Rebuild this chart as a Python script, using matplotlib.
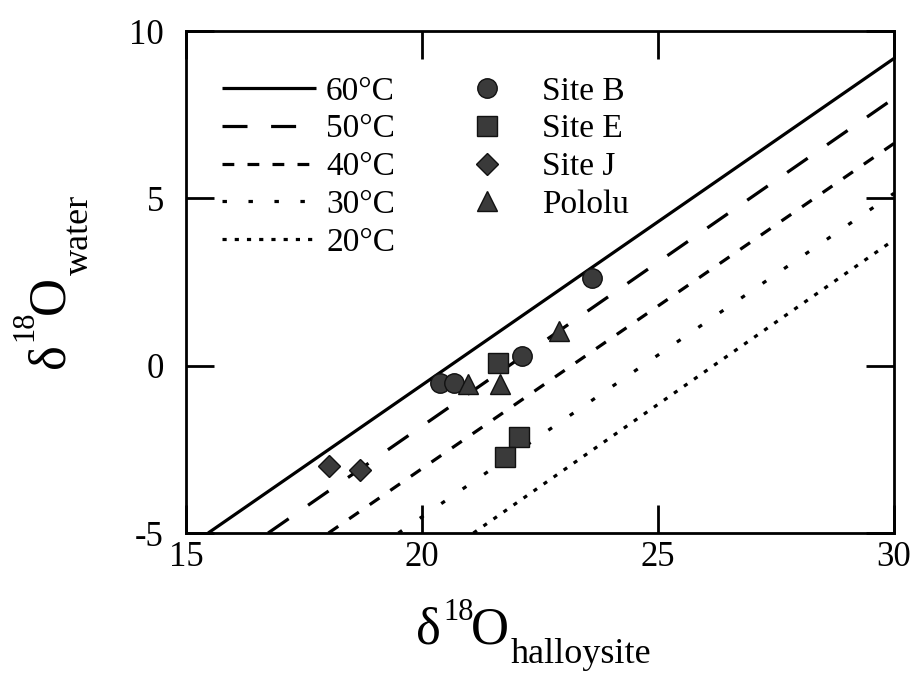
import matplotlib
matplotlib.use("Agg")
import matplotlib.pyplot as plt

# ---------------- data ----------------
# isotherms: x and y where each line crosses the frame (bottom edge -> right edge)
iso_labels = ["60°C", "50°C", "40°C", "30°C", "20°C"]
iso_x = [[15.47, 30.0], [16.74, 30.0], [18.02, 30.0], [19.50, 30.0], [21.09, 30.0]]
iso_y = [[-5.0, 9.18], [-5.0, 7.99], [-5.0, 6.64], [-5.0, 5.15], [-5.0, 3.76]]

site_labels = ["Site B", "Site E", "Site J", "Pololu"]
siteB_x = [23.60, 22.11, 20.38, 20.68]
siteB_y = [2.61, 0.29, -0.51, -0.51]
siteE_x = [21.60, 22.06, 21.75]
siteE_y = [0.07, -2.12, -2.74]
siteJ_x = [18.02, 18.69]
siteJ_y = [-3.00, -3.12]
pololu_x = [20.98, 21.65, 22.91]
pololu_y = [-0.55, -0.55, 1.05]

xticks = [15, 20, 25, 30]
yticks = [-5, 0, 5, 10]

# ---------------- style ----------------
plt.rcParams["font.family"] = ["Liberation Serif", "DejaVu Serif"]
plt.rcParams["lines.scale_dashes"] = False
plt.rcParams["axes.unicode_minus"] = False

W, H = 914, 675
fig = plt.figure(figsize=(W / 100, H / 100), dpi=100)
ax = fig.add_axes([186 / W, 1 - 533 / H, 708 / W, 502 / H])

dash_styles = [
    "-",
    (0, (18, 17)),
    (0, (8.5, 9.5)),
    (0, (3.2, 15.5)),
    (0, (3.0, 5.8)),
]
line_handles = []
for xs, ys, ls, lab in zip(iso_x, iso_y, dash_styles, iso_labels):
    (ln,) = ax.plot(xs, ys, color="black", lw=2.3, linestyle=ls,
                    dash_capstyle="butt", solid_capstyle="butt", label=lab)
    line_handles.append(ln)

face = "#3a3a3a"
mk = dict(linestyle="none", markerfacecolor=face, markeredgecolor="#111111",
          markeredgewidth=1.0)
hB, = ax.plot(siteB_x, siteB_y, marker="o", markersize=14, label=site_labels[0], **mk)
hE, = ax.plot(siteE_x, siteE_y, marker="s", markersize=14, label=site_labels[1], **mk)
hJ, = ax.plot(siteJ_x, siteJ_y, marker="D", markersize=11, label=site_labels[2], **mk)
hP, = ax.plot(pololu_x, pololu_y, marker="^", markersize=15, label=site_labels[3], **mk)

ax.set_xlim(15, 30)
ax.set_ylim(-5, 10)
ax.set_xticks(xticks)
ax.set_yticks(yticks)
ax.tick_params(direction="in", length=20, width=2, top=True, right=True,
               labelsize=25)
ax.tick_params(axis="x", pad=6)
ax.tick_params(axis="y", pad=16)
for s in ax.spines.values():
    s.set_linewidth(2)

# ---------------- legends ----------------
top_frac = 1 - (76 - 31) / 502
leg1 = ax.legend(handles=line_handles, loc="upper left",
                 bbox_to_anchor=((222 - 186) / 708, top_frac),
                 frameon=False, fontsize=24, handlelength=2.82, handletextpad=0.3,
                 labelspacing=0.22, borderpad=0, borderaxespad=0)
ax.add_artist(leg1)
leg2 = ax.legend(handles=[hB, hE, hJ, hP], loc="upper left",
                 bbox_to_anchor=((465 - 186) / 708, top_frac),
                 frameon=False, fontsize=24, handlelength=1.3, handletextpad=1.0,
                 labelspacing=0.22, borderpad=0, borderaxespad=0)

# ---------------- axis labels (composed pieces) ----------------
def fx(px):
    return px / W

def fy(py):
    return 1 - py / H

# x label
fig.text(fx(416), fy(644), "δ", fontsize=38, ha="left", va="baseline")
fig.text(fx(443), fy(620), "18", fontsize=22, ha="left", va="baseline")
fig.text(fx(471), fy(644), "O", fontsize=38, ha="left", va="baseline")
fig.text(fx(511), fy(663), "halloysite", fontsize=26, ha="left", va="baseline")

# y label (rotated)
kw = dict(rotation=90, rotation_mode="anchor", ha="left", va="baseline")
fig.text(fx(63), fy(368), "δ", fontsize=38, **kw)
fig.text(fx(32), fy(341), "18", fontsize=22, **kw)
fig.text(fx(63), fy(314), "O", fontsize=38, **kw)
fig.text(fx(88), fy(275), "water", fontsize=26, **kw)

fig.savefig("out.png", dpi=100)
